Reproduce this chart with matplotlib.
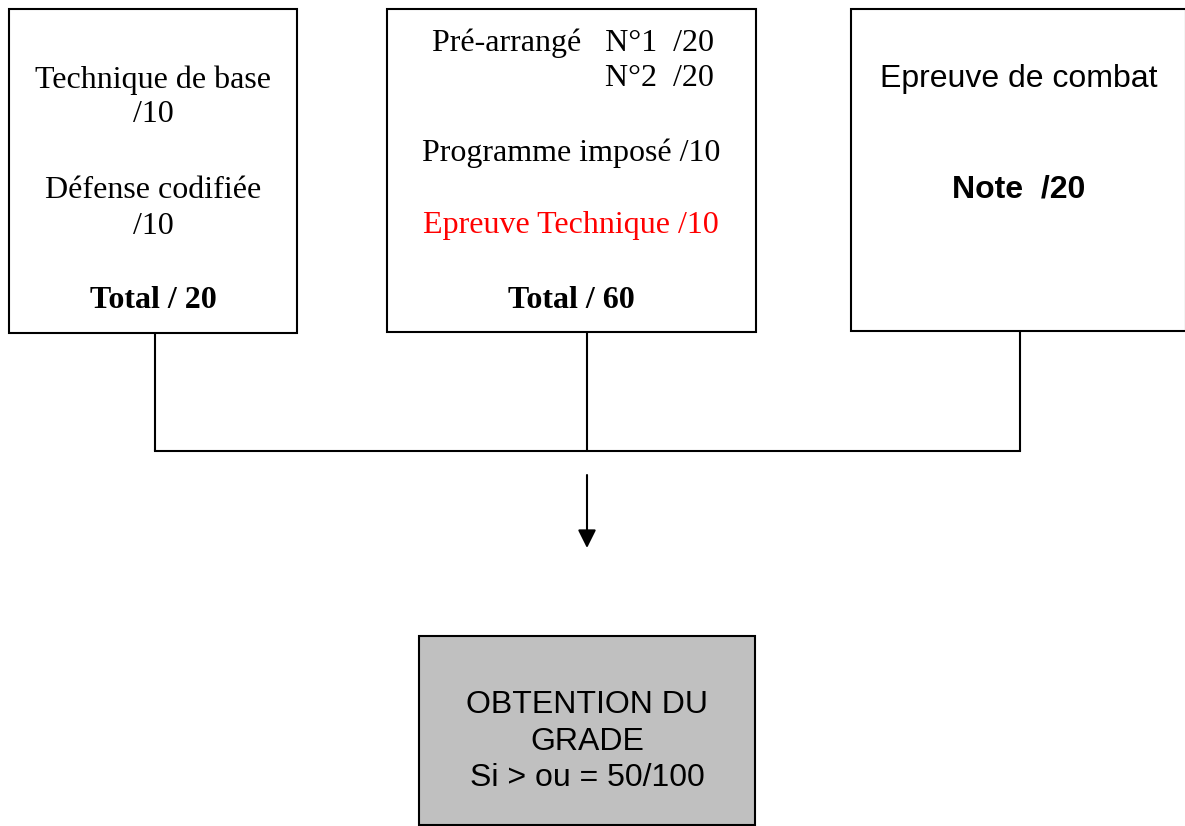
import matplotlib
matplotlib.use("Agg")
import matplotlib.pyplot as plt
from matplotlib.patches import Rectangle

# ---- data ----
box_names = ["base", "technique", "combat", "result"]
box_x0 = [9, 387, 851, 419]
box_x1 = [297, 756, 1186, 755]
box_y0 = [9, 9, 9, 636]
box_y1 = [333, 332, 331, 825]
box_fill = ["white", "white", "white", "#c0c0c0"]

serif = "Liberation Serif"
sans = "Liberation Sans"
lines_text = ["Technique de base", "/10", "Défense codifiée", "/10", "Total / 20",
              "Pré-arrangé   N°1  /20", "N°2  /20", "Programme imposé /10",
              "Epreuve Technique /10", "Total / 60",
              "Epreuve de combat", "Note  /20",
              "OBTENTION DU", "GRADE", "Si > ou = 50/100"]
lines_x = [153, 153, 153, 153, 153,
           714, 714, 571, 571, 571,
           1019, 1019,
           587, 587, 587]
lines_y = [80, 115, 191, 226, 301,
           43, 78, 153, 226, 301,
           79, 190,
           705, 742, 778]
lines_font = [serif]*10 + [sans]*5
lines_weight = ["normal"]*4 + ["bold"] + ["normal"]*4 + ["bold"] + ["normal", "bold"] + ["normal"]*3
lines_color = ["black"]*8 + ["#ff0000"] + ["black"]*6
lines_ha = ["center"]*5 + ["right", "right", "center", "center", "center"] + ["center"]*5

# connectors
conn_x = [155, 587, 1020]
conn_top = [333, 332, 331]
conn_y = 451
arrow_x = 587
arrow_y0 = 475
arrow_y1 = 548

fig = plt.figure(figsize=(11.85, 8.26), dpi=100)
ax = fig.add_axes([0, 0, 1, 1])
ax.set_xlim(0, 1185)
ax.set_ylim(826, 0)
ax.axis("off")

lw = 1.5
for x0, x1, y0, y1, fc in zip(box_x0, box_x1, box_y0, box_y1, box_fill):
    ax.add_patch(Rectangle((x0, y0), x1 - x0, y1 - y0, facecolor=fc,
                           edgecolor="black", linewidth=lw, zorder=2))

for x, top in zip(conn_x, conn_top):
    ax.plot([x, x], [top, conn_y], color="black", lw=lw, solid_capstyle="butt")
ax.plot([conn_x[0], conn_x[-1]], [conn_y, conn_y], color="black", lw=lw,
        solid_capstyle="projecting")

ax.annotate("", xy=(arrow_x, arrow_y1), xytext=(arrow_x, arrow_y0),
            arrowprops=dict(arrowstyle="-|>,head_length=1.1,head_width=0.55",
                            color="black", lw=lw, shrinkA=0, shrinkB=0))

for t, x, y, f, w, c, ha in zip(lines_text, lines_x, lines_y, lines_font,
                                lines_weight, lines_color, lines_ha):
    ax.text(x, y, t, family=f, fontweight=w, color=c, ha=ha, va="center",
            fontsize=23, zorder=3)

fig.savefig("out.png", dpi=100)
